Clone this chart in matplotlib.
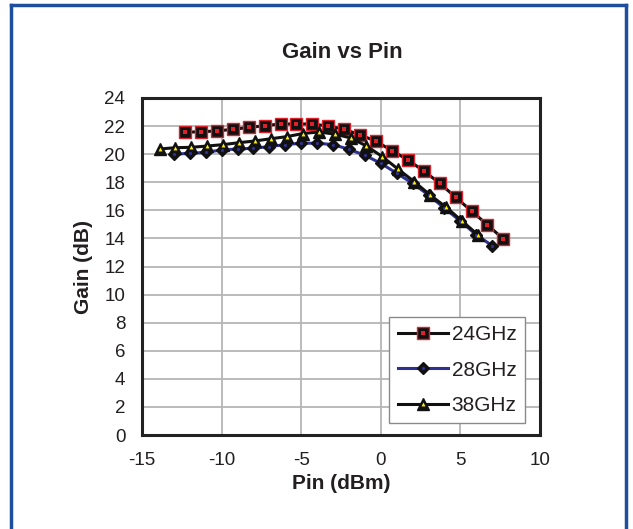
#!/usr/bin/python
# -*- coding: utf-8 -*-
"""Gain vs Pin curves for three frequencies, redrawn as out.png."""

import matplotlib
matplotlib.use('Agg')
import matplotlib.pyplot as plt
from matplotlib.lines import Line2D

PIN_24 = [-12.3 + i for i in range(21)]
GAIN_24 = [21.56, 21.6, 21.65, 21.77, 21.9, 22.03, 22.15, 22.15, 22.15,
           22.0, 21.77, 21.37, 20.92, 20.25, 19.59, 18.8, 17.93, 16.93,
           15.95, 14.96, 13.96]

PIN_28 = [-13 + i for i in range(21)]
GAIN_28 = [20.0, 20.06, 20.13, 20.3, 20.37, 20.42, 20.54, 20.68, 20.78,
           20.78, 20.68, 20.35, 19.92, 19.35, 18.64, 17.93, 17.09, 16.15,
           15.24, 14.25, 13.48]

PIN_38 = [-13.9 + i for i in range(21)]
GAIN_38 = [20.37, 20.46, 20.49, 20.58, 20.68, 20.82, 20.94, 21.1, 21.25,
           21.47, 21.58, 21.43, 21.16, 20.58, 19.82, 18.92, 18.04, 17.09,
           16.22, 15.24, 14.25]

LABELS = ['24GHz', '28GHz', '38GHz']
XTICKS = [-15, -10, -5, 0, 5, 10]
YTICKS = list(range(0, 25, 2))

TXT = '#231f20'
RED = '#e0202a'
NAVY = '#2e3192'
YELLOW = '#fff200'
FRAME = '#1f4e9c'


def series(ax, x, y, linecolor, marker, ms, mec, dotmarker, dotms, dotcolor):
    """Draw one curve: a line with black markers and a coloured dot inside."""
    base, = ax.plot(x, y, color=linecolor, lw=2.2, marker=marker, ms=ms,
                    mfc='#111111', mec=mec, mew=1.0, zorder=3)
    dot, = ax.plot(x, y, ls='none', marker=dotmarker, ms=dotms,
                   mfc=dotcolor, mec=dotcolor, mew=0, zorder=4)
    return (base, dot)


def main():
    plt.rcParams['font.family'] = ['Liberation Sans', 'DejaVu Sans']
    plt.rcParams['axes.unicode_minus'] = False
    fig = plt.figure(figsize=(6.33, 5.29), dpi=100)
    ax = fig.add_axes([142 / 633., 1 - 435 / 529., 398 / 633., 337 / 529.])

    h24 = series(ax, PIN_24, GAIN_24, '#111111', 's', 8, RED, 's', 2.2, RED)
    h28 = series(ax, PIN_28, GAIN_28, NAVY, 'D', 6.5, '#111111', 'o', 2.3,
                 NAVY)
    h38 = series(ax, PIN_38, GAIN_38, '#111111', '^', 8.5, '#111111', '^',
                 2.8, YELLOW)

    ax.set_xlim(-15, 10)
    ax.set_ylim(0, 24)
    ax.set_xticks(XTICKS)
    ax.set_yticks(YTICKS)
    ax.grid(True, color='#b5b5b5', lw=1.3)
    ax.set_axisbelow(True)
    ax.tick_params(axis='both', length=0, labelsize=13.5, colors=TXT)
    ax.tick_params(axis='x', pad=12)
    ax.tick_params(axis='y', pad=12)
    for side in ax.spines.values():
        side.set_linewidth(2.2)
        side.set_color('#222222')

    ax.set_xlabel('Pin (dBm)', fontsize=15, fontweight='bold', color=TXT,
                  labelpad=4)
    ax.set_ylabel('Gain (dB)', fontsize=15, fontweight='bold', color=TXT,
                  labelpad=8)
    fig.text(342 / 633., 1 - 53 / 529., 'Gain vs Pin', fontsize=16,
             fontweight='bold', color=TXT, ha='center', va='center')

    leg = ax.legend([h24, h28, h38], LABELS, loc='lower right',
                    bbox_to_anchor=(0.962, 0.035), borderaxespad=0,
                    fontsize=15, frameon=True, fancybox=False,
                    edgecolor='#8a8a8a', framealpha=1, handlelength=2.4,
                    handletextpad=0.2, labelspacing=0.78, borderpad=0.4)
    leg.get_frame().set_linewidth(1.0)
    for t in leg.get_texts():
        t.set_color(TXT)

    # blue frame around the figure, open at the bottom
    fr = dict(color=FRAME, lw=2.5, transform=fig.transFigure)
    fig.add_artist(Line2D([11 / 633., 11 / 633.], [0, 1 - 5 / 529.], **fr))
    fig.add_artist(Line2D([626 / 633., 626 / 633.], [0, 1 - 5 / 529.], **fr))
    fig.add_artist(Line2D([11 / 633., 626 / 633.],
                          [1 - 5 / 529., 1 - 5 / 529.], **fr))

    fig.savefig('out.png', dpi=100)


if __name__ == '__main__':
    main()
